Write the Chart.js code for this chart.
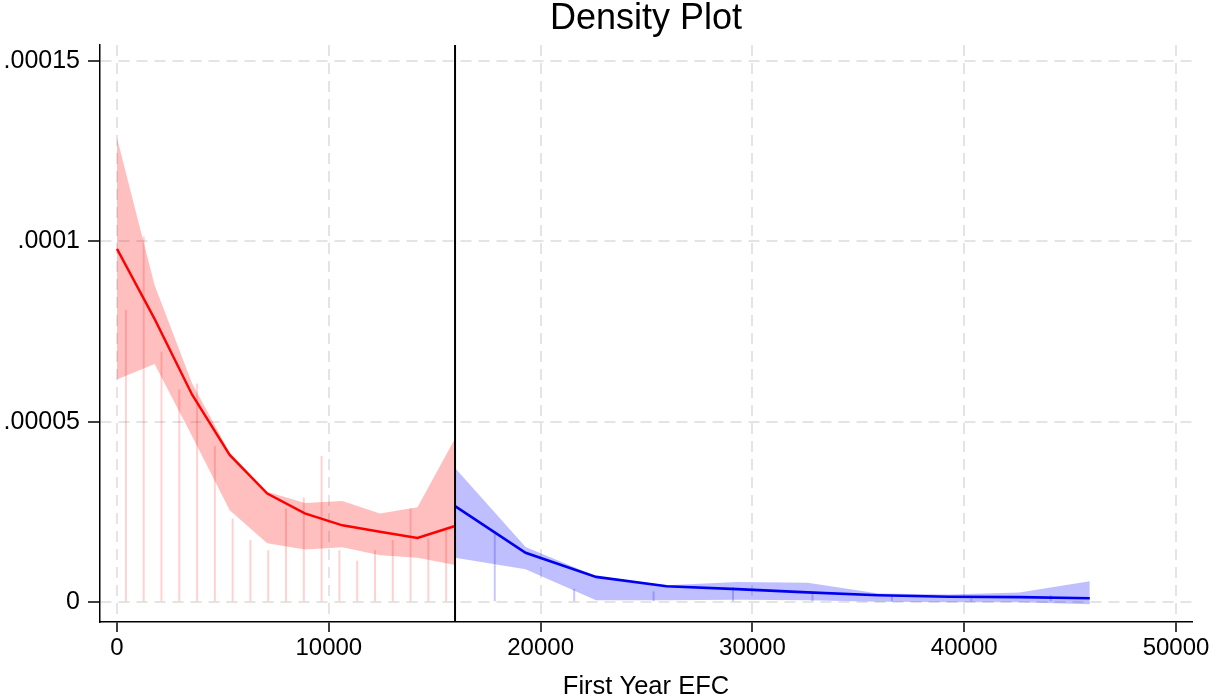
<!DOCTYPE html>
<html>
<head>
<meta charset="utf-8">
<title>Density Plot</title>
<script src="https://cdn.jsdelivr.net/npm/chart.js@4"></script>
<style>
  html, body { margin: 0; padding: 0; background: #ffffff; }
  #wrap { position: relative; width: 1215px; height: 700px; }
</style>
</head>
<body>
<div id="wrap"><canvas id="chart"></canvas></div>
<script>
// Kernel density estimates on each side of the EFC cutoff, with confidence bands
const cutoff = 15960;

const redX       = [0, 1773, 3547, 5320, 7093, 8867, 10640, 12413, 14187, 15960];
const redDensity = [9.79e-5, 7.85e-5, 5.75e-5, 4.08e-5, 3.01e-5, 2.46e-5, 2.13e-5, 1.95e-5, 1.78e-5, 2.11e-5];
const redUpper   = [12.86e-5, 8.79e-5, 6.06e-5, 4.14e-5, 3.06e-5, 2.75e-5, 2.80e-5, 2.46e-5, 2.63e-5, 4.54e-5];
const redLower   = [6.17e-5, 6.60e-5, 4.60e-5, 2.55e-5, 1.63e-5, 1.46e-5, 1.52e-5, 1.30e-5, 1.23e-5, 1.03e-5];

const blueX       = [15960, 19290, 22620, 25950, 29280, 32610, 35940, 39270, 42600, 45930];
const blueDensity = [2.66e-5, 1.37e-5, 0.70e-5, 0.44e-5, 0.36e-5, 0.27e-5, 0.19e-5, 0.15e-5, 0.14e-5, 0.11e-5];
const blueUpper   = [3.72e-5, 1.53e-5, 0.72e-5, 0.47e-5, 0.56e-5, 0.54e-5, 0.24e-5, 0.21e-5, 0.27e-5, 0.58e-5];
const blueLower   = [1.23e-5, 0.91e-5, 0.05e-5, 0.05e-5, 0.07e-5, 0.05e-5, 0.01e-5, 0.00e-5, 0.00e-5, -0.06e-5];

// Histogram spikes (bin midpoints and heights)
const redSpikeX = [420, 1260, 2100, 2940, 3780, 4620, 5460, 6300, 7140, 7980, 8820, 9660, 10500, 11340, 12180, 13020, 13860, 14700, 15540];
const redSpikeH = [8.10e-5, 10.13e-5, 6.94e-5, 5.9e-5, 6.06e-5, 4.33e-5, 2.32e-5, 1.72e-5, 1.44e-5, 2.6e-5, 2.9e-5, 4.05e-5, 1.44e-5, 1.15e-5, 1.44e-5, 1.72e-5, 2.60e-5, 1.77e-5, 2.0e-5];
const blueSpikeX = [17835, 21585, 25335, 29085, 32835, 36585, 40335, 44085];
const blueSpikeH = [1.95e-5, 0.37e-5, 0.30e-5, 0.42e-5, 0.22e-5, 0.18e-5, 0.10e-5, 0.19e-5];

const xTickValues = [0, 10000, 20000, 30000, 40000, 50000];
const xTickLabels = ['0', '10000', '20000', '30000', '40000', '50000'];
const yTickValues = [0, 0.00005, 0.0001, 0.00015];
const yTickLabels = ['0', '.00005', '.0001', '.00015'];

const X_MIN = -803, X_MAX = 50755;
const Y_MIN = -0.0000055, Y_MAX = 0.0001544;

const pts = (xs, ys) => xs.map((x, i) => ({ x: x, y: ys[i] }));
const FONT = "'Liberation Sans', Arial, Helvetica, sans-serif";

const bandStyle = {
  type: 'line', pointRadius: 0, borderWidth: 0, tension: 0
};

const data = {
  datasets: [
    Object.assign({}, bandStyle, { label: 'red lower', data: pts(redX, redLower), fill: false, order: 5, borderColor: 'rgba(0,0,0,0)' }),
    Object.assign({}, bandStyle, { label: 'red upper', data: pts(redX, redUpper), fill: '-1', order: 4, borderColor: 'rgba(0,0,0,0)', backgroundColor: 'rgba(255,0,0,0.25)' }),
    Object.assign({}, bandStyle, { label: 'blue lower', data: pts(blueX, blueLower), fill: false, order: 5, borderColor: 'rgba(0,0,0,0)' }),
    Object.assign({}, bandStyle, { label: 'blue upper', data: pts(blueX, blueUpper), fill: '-1', order: 4, borderColor: 'rgba(0,0,0,0)', backgroundColor: 'rgba(0,0,255,0.25)' }),
    { type: 'bar', label: 'red bins', data: pts(redSpikeX, redSpikeH), backgroundColor: 'rgba(255,0,0,0.18)', grouped: false, maxBarThickness: 2, order: 3 },
    { type: 'bar', label: 'blue bins', data: pts(blueSpikeX, blueSpikeH), backgroundColor: 'rgba(0,0,255,0.22)', grouped: false, maxBarThickness: 2, order: 3 },
    { type: 'line', label: 'red density', data: pts(redX, redDensity), borderColor: '#ff0000', borderWidth: 2.4, pointRadius: 0, fill: false, tension: 0, order: 2 },
    { type: 'line', label: 'blue density', data: pts(blueX, blueDensity), borderColor: '#0000f0', borderWidth: 2.6, pointRadius: 0, fill: false, tension: 0, order: 2 },
    { type: 'line', label: 'cutoff', data: [{ x: cutoff, y: Y_MIN }, { x: cutoff, y: Y_MAX }], borderColor: '#000000', borderWidth: 2, pointRadius: 0, fill: false, order: 1 }
  ]
};

new Chart(document.getElementById('chart'), {
  type: 'line',
  data: data,
  options: {
    responsive: true,
    maintainAspectRatio: false,
    animation: false,
    events: [],
    layout: { padding: { left: 0, right: 23, top: 0, bottom: 0 } },
    plugins: {
      legend: { display: false },
      tooltip: { enabled: false },
      title: {
        display: true,
        text: 'Density Plot',
        fullSize: false,
        color: '#000000',
        font: { family: FONT, size: 36, weight: 'normal', lineHeight: 1 },
        padding: { top: 1, bottom: 8 }
      }
    },
    scales: {
      x: {
        type: 'linear',
        min: X_MIN, max: X_MAX,
        offset: false,
        afterBuildTicks: s => { s.ticks = xTickValues.map(v => ({ value: v })); },
        afterFit: s => { s.height = 78; },
        ticks: {
          autoSkip: false, maxRotation: 0, padding: 2,
          color: '#000000',
          font: { family: FONT, size: 24 },
          callback: (v, i) => xTickLabels[i]
        },
        grid: {
          color: '#e4e4e4', lineWidth: 2, offset: false,
          drawTicks: true, tickLength: 10, tickColor: '#000000', tickWidth: 1.5
        },
        border: { display: true, color: '#000000', width: 1.5, dash: [11, 7] },
        title: {
          display: true, text: 'First Year EFC', color: '#000000',
          font: { family: FONT, size: 25.5, lineHeight: 1 },
          padding: { top: 0, bottom: 0 }
        }
      },
      y: {
        type: 'linear',
        min: Y_MIN, max: Y_MAX,
        afterBuildTicks: s => { s.ticks = yTickValues.map(v => ({ value: v })); },
        afterFit: s => { s.width = 100; },
        ticks: {
          autoSkip: false, padding: 8,
          color: '#000000',
          font: { family: FONT, size: 25 },
          callback: (v, i) => yTickLabels[i]
        },
        grid: {
          color: '#e4e4e4', lineWidth: 2,
          drawTicks: true, tickLength: 12, tickColor: '#000000', tickWidth: 1.5
        },
        border: { display: true, color: '#000000', width: 1.5, dash: [11, 7] }
      }
    }
  }
});
</script>
</body>
</html>
